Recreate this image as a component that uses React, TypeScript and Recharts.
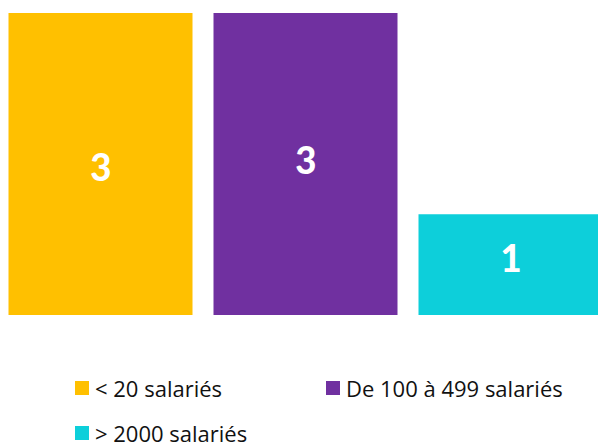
import React from "react";
import { BarChart, Bar, XAxis, YAxis, Cell, LabelList } from "recharts";

const categories = ["< 20 salariés", "De 100 à 499 salariés", "> 2000 salariés"];
const values = [3, 3, 1];
const colors = ["#FFC000", "#7030A0", "#0DCFDA"];

const data = categories.map((name, i) => ({ name, value: values[i] }));

const LABEL_FONT = "Carlito, Lato, 'Open Sans', sans-serif";
const LEGEND_FONT = "'Open Sans', sans-serif";
const labelDy = [2, -5, -7];

function renderLabel(props: any) {
  const { x, y, width, height, value, index } = props;
  return (
    <text
      x={Number(x) + Number(width) / 2}
      y={Number(y) + Number(height) / 2 + (labelDy[index] ?? 0)}
      textAnchor="middle"
      dominantBaseline="central"
      fill="#ffffff"
      fontWeight={700}
      fontSize={42}
      fontFamily={LABEL_FONT}
    >
      {value}
    </text>
  );
}

const legendPos = [
  { left: 75, top: 381 },
  { left: 326, top: 381 },
  { left: 75, top: 426 },
];

export default function App() {
  return (
    <div
      style={{
        position: "absolute",
        left: 0,
        top: 0,
        width: 598,
        height: 447,
        overflow: "hidden",
        background: "#ffffff",
      }}
    >
      <div style={{ position: "absolute", left: -2.5, top: 0 }}>
        <BarChart
          width={615}
          height={447}
          data={data}
          margin={{ top: 13, right: 0, bottom: 132, left: 0 }}
          barCategoryGap={10.5}
        >
          <XAxis dataKey="name" hide />
          <YAxis hide domain={[0, 3]} />
          <Bar dataKey="value" isAnimationActive={false}>
            {data.map((d, i) => (
              <Cell key={d.name} fill={colors[i]} />
            ))}
            <LabelList dataKey="value" content={renderLabel} />
          </Bar>
        </BarChart>
      </div>
      {categories.map((c, i) => (
        <div
          key={c}
          style={{
            position: "absolute",
            left: legendPos[i].left,
            top: legendPos[i].top - 4,
            display: "flex",
            alignItems: "center",
            height: 22,
            lineHeight: "22px",
            fontSize: 22,
            fontFamily: LEGEND_FONT,
            color: "#111111",
            whiteSpace: "nowrap",
          }}
        >
          <span
            style={{
              display: "inline-block",
              width: 14,
              height: 14,
              background: colors[i],
              marginRight: 6,
            }}
          />
          <span style={{ lineHeight: "22px" }}>{c}</span>
        </div>
      ))}
    </div>
  );
}
